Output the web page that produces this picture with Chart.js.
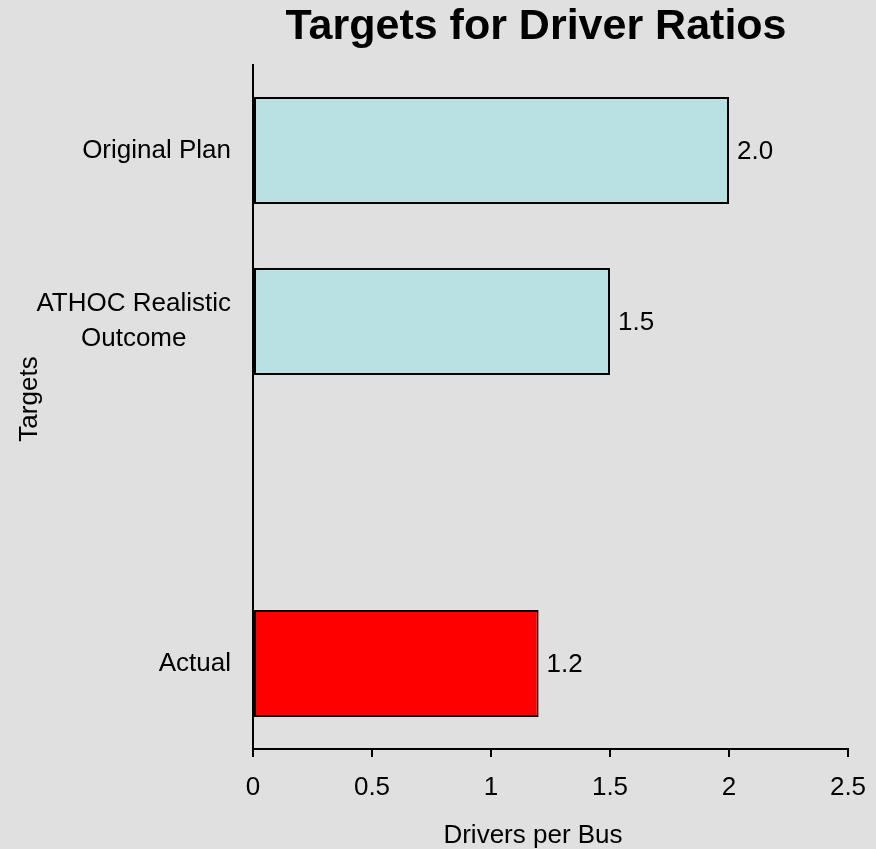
<!DOCTYPE html>
<html>
<head>
<meta charset="utf-8">
<title>Targets for Driver Ratios</title>
<script src="https://cdn.jsdelivr.net/npm/chart.js@4/dist/chart.umd.min.js"></script>
<style>
  body { margin: 0; background: #e0e0e0; }
  #wrap { width: 876px; height: 849px; }
</style>
</head>
<body>
<div id="wrap"><canvas id="myChart" width="876" height="849"></canvas></div>
<script>
// data
const categories = ['Original Plan', ['ATHOC Realistic', 'Outcome'], '', 'Actual'];
const values = [2.0, 1.5, null, 1.2];
const barColors = ['#b9e0e2', '#b9e0e2', '#b9e0e2', '#ff0000'];
const xTicks = [0, 0.5, 1, 1.5, 2, 2.5];

const chartTitle = 'Targets for Driver Ratios';
const xTitle = 'Drivers per Bus';
const yTitle = 'Targets';

const FONT = "'Liberation Sans', Arial, sans-serif";

// labels, titles and values drawn by hand (positions come from the scales)
const textPlugin = {
  id: 'textPlugin',
  afterDraw(chart) {
    const ctx = chart.ctx;
    const yScale = chart.scales.y;
    ctx.save();
    ctx.fillStyle = '#000';

    // category labels: block right aligned, lines centred
    ctx.font = '26px ' + FONT;
    ctx.textAlign = 'center';
    ctx.textBaseline = 'middle';
    const rightEdge = yScale.right - 22;
    categories.forEach((lab, i) => {
      const lines = Array.isArray(lab) ? lab : [lab];
      if (!lines[0]) return;
      const w = Math.max(...lines.map(l => ctx.measureText(l).width));
      const cx = rightEdge - w / 2;
      const y0 = yScale.getPixelForTick(i) - (lines.length - 1) * 35 / 2;
      lines.forEach((l, j) => ctx.fillText(l, cx, y0 + j * 35));
    });

    // value labels at bar ends
    ctx.textAlign = 'left';
    chart.getDatasetMeta(0).data.forEach((bar, i) => {
      if (values[i] == null) return;
      ctx.fillText(values[i].toFixed(1), bar.x + 8, bar.y + 1);
    });

    // axis titles
    ctx.textAlign = 'center';
    ctx.textBaseline = 'alphabetic';
    ctx.fillText(xTitle, 533, 843);
    ctx.save();
    ctx.translate(37, 399);
    ctx.rotate(-Math.PI / 2);
    ctx.fillText(yTitle, 0, 0);
    ctx.restore();

    // main title
    ctx.font = 'bold 43px ' + FONT;
    ctx.fillText(chartTitle, 536, 39);
    ctx.restore();
  }
};

new Chart(document.getElementById('myChart'), {
  type: 'bar',
  data: {
    labels: categories,
    datasets: [{
      data: values,
      backgroundColor: barColors,
      borderColor: '#000',
      borderWidth: 2,
      borderSkipped: false,
      categoryPercentage: 1,
      barPercentage: 0.626
    }]
  },
  options: {
    indexAxis: 'y',
    responsive: false,
    animation: false,
    layout: { padding: { left: 0, right: 28, top: 65, bottom: 0 } },
    plugins: {
      legend: { display: false },
      tooltip: { enabled: false },
      title: { display: false }
    },
    scales: {
      x: {
        type: 'linear',
        min: 0,
        max: 2.5,
        afterBuildTicks: scale => { scale.ticks = xTicks.map(v => ({ value: v })); },
        afterFit: scale => {
          scale.height = 100;
          scale.paddingLeft = 0;
          scale.paddingRight = 0;
        },
        ticks: {
          color: '#000',
          padding: 15,
          maxRotation: 0,
          font: { family: FONT, size: 26 },
          callback: v => String(v)
        },
        grid: {
          display: true,
          drawOnChartArea: false,
          drawTicks: true,
          tickLength: 8,
          color: '#000',
          lineWidth: 2
        },
        border: { display: true, color: '#000', width: 2 }
      },
      y: {
        type: 'category',
        afterFit: scale => { scale.width = 253; },
        ticks: { display: false },
        grid: { display: false },
        border: { display: true, color: '#000', width: 2 }
      }
    }
  },
  plugins: [textPlugin]
});
</script>
</body>
</html>
